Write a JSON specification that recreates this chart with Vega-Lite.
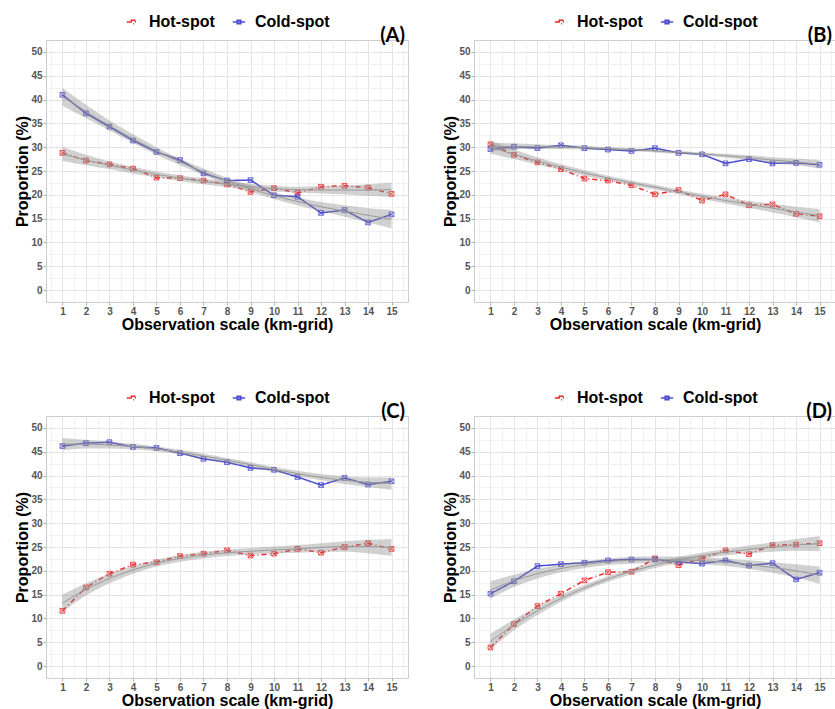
{
  "$schema": "https://vega.github.io/schema/vega-lite/v6.json",
  "background": "white",
  "padding": {"left": 14, "top": 13, "right": 0, "bottom": 0},
  "spacing": 56,
  "datasets": {
    "obs": [
      {"panel":"A","series":"Hot-spot","x":1,"y":28.8},{"panel":"A","series":"Hot-spot","x":2,"y":27.2},{"panel":"A","series":"Hot-spot","x":3,"y":26.4},{"panel":"A","series":"Hot-spot","x":4,"y":25.5},{"panel":"A","series":"Hot-spot","x":5,"y":23.6},{"panel":"A","series":"Hot-spot","x":6,"y":23.5},{"panel":"A","series":"Hot-spot","x":7,"y":23.0},{"panel":"A","series":"Hot-spot","x":8,"y":22.2},{"panel":"A","series":"Hot-spot","x":9,"y":20.6},{"panel":"A","series":"Hot-spot","x":10,"y":21.4},{"panel":"A","series":"Hot-spot","x":11,"y":20.4},{"panel":"A","series":"Hot-spot","x":12,"y":21.7},{"panel":"A","series":"Hot-spot","x":13,"y":21.9},{"panel":"A","series":"Hot-spot","x":14,"y":21.5},{"panel":"A","series":"Hot-spot","x":15,"y":20.2},
      {"panel":"A","series":"Cold-spot","x":1,"y":41.0},{"panel":"A","series":"Cold-spot","x":2,"y":37.1},{"panel":"A","series":"Cold-spot","x":3,"y":34.3},{"panel":"A","series":"Cold-spot","x":4,"y":31.4},{"panel":"A","series":"Cold-spot","x":5,"y":29.0},{"panel":"A","series":"Cold-spot","x":6,"y":27.3},{"panel":"A","series":"Cold-spot","x":7,"y":24.5},{"panel":"A","series":"Cold-spot","x":8,"y":23.0},{"panel":"A","series":"Cold-spot","x":9,"y":23.1},{"panel":"A","series":"Cold-spot","x":10,"y":19.9},{"panel":"A","series":"Cold-spot","x":11,"y":19.6},{"panel":"A","series":"Cold-spot","x":12,"y":16.2},{"panel":"A","series":"Cold-spot","x":13,"y":16.8},{"panel":"A","series":"Cold-spot","x":14,"y":14.2},{"panel":"A","series":"Cold-spot","x":15,"y":15.9},
      {"panel":"B","series":"Hot-spot","x":1,"y":30.6},{"panel":"B","series":"Hot-spot","x":2,"y":28.4},{"panel":"B","series":"Hot-spot","x":3,"y":26.8},{"panel":"B","series":"Hot-spot","x":4,"y":25.4},{"panel":"B","series":"Hot-spot","x":5,"y":23.4},{"panel":"B","series":"Hot-spot","x":6,"y":23.0},{"panel":"B","series":"Hot-spot","x":7,"y":22.0},{"panel":"B","series":"Hot-spot","x":8,"y":20.1},{"panel":"B","series":"Hot-spot","x":9,"y":21.0},{"panel":"B","series":"Hot-spot","x":10,"y":18.8},{"panel":"B","series":"Hot-spot","x":11,"y":20.1},{"panel":"B","series":"Hot-spot","x":12,"y":17.8},{"panel":"B","series":"Hot-spot","x":13,"y":18.0},{"panel":"B","series":"Hot-spot","x":14,"y":16.0},{"panel":"B","series":"Hot-spot","x":15,"y":15.5},
      {"panel":"B","series":"Cold-spot","x":1,"y":29.6},{"panel":"B","series":"Cold-spot","x":2,"y":30.1},{"panel":"B","series":"Cold-spot","x":3,"y":29.8},{"panel":"B","series":"Cold-spot","x":4,"y":30.4},{"panel":"B","series":"Cold-spot","x":5,"y":29.8},{"panel":"B","series":"Cold-spot","x":6,"y":29.5},{"panel":"B","series":"Cold-spot","x":7,"y":29.2},{"panel":"B","series":"Cold-spot","x":8,"y":29.8},{"panel":"B","series":"Cold-spot","x":9,"y":28.8},{"panel":"B","series":"Cold-spot","x":10,"y":28.5},{"panel":"B","series":"Cold-spot","x":11,"y":26.6},{"panel":"B","series":"Cold-spot","x":12,"y":27.5},{"panel":"B","series":"Cold-spot","x":13,"y":26.6},{"panel":"B","series":"Cold-spot","x":14,"y":26.7},{"panel":"B","series":"Cold-spot","x":15,"y":26.3},
      {"panel":"C","series":"Hot-spot","x":1,"y":11.6},{"panel":"C","series":"Hot-spot","x":2,"y":16.5},{"panel":"C","series":"Hot-spot","x":3,"y":19.4},{"panel":"C","series":"Hot-spot","x":4,"y":21.3},{"panel":"C","series":"Hot-spot","x":5,"y":21.8},{"panel":"C","series":"Hot-spot","x":6,"y":23.1},{"panel":"C","series":"Hot-spot","x":7,"y":23.6},{"panel":"C","series":"Hot-spot","x":8,"y":24.3},{"panel":"C","series":"Hot-spot","x":9,"y":23.2},{"panel":"C","series":"Hot-spot","x":10,"y":23.6},{"panel":"C","series":"Hot-spot","x":11,"y":24.6},{"panel":"C","series":"Hot-spot","x":12,"y":23.8},{"panel":"C","series":"Hot-spot","x":13,"y":25.0},{"panel":"C","series":"Hot-spot","x":14,"y":25.8},{"panel":"C","series":"Hot-spot","x":15,"y":24.6},
      {"panel":"C","series":"Cold-spot","x":1,"y":46.2},{"panel":"C","series":"Cold-spot","x":2,"y":46.8},{"panel":"C","series":"Cold-spot","x":3,"y":47.0},{"panel":"C","series":"Cold-spot","x":4,"y":46.0},{"panel":"C","series":"Cold-spot","x":5,"y":45.8},{"panel":"C","series":"Cold-spot","x":6,"y":44.7},{"panel":"C","series":"Cold-spot","x":7,"y":43.5},{"panel":"C","series":"Cold-spot","x":8,"y":42.8},{"panel":"C","series":"Cold-spot","x":9,"y":41.6},{"panel":"C","series":"Cold-spot","x":10,"y":41.2},{"panel":"C","series":"Cold-spot","x":11,"y":39.7},{"panel":"C","series":"Cold-spot","x":12,"y":38.0},{"panel":"C","series":"Cold-spot","x":13,"y":39.5},{"panel":"C","series":"Cold-spot","x":14,"y":38.1},{"panel":"C","series":"Cold-spot","x":15,"y":38.8},
      {"panel":"D","series":"Hot-spot","x":1,"y":3.9},{"panel":"D","series":"Hot-spot","x":2,"y":8.8},{"panel":"D","series":"Hot-spot","x":3,"y":12.6},{"panel":"D","series":"Hot-spot","x":4,"y":15.2},{"panel":"D","series":"Hot-spot","x":5,"y":18.0},{"panel":"D","series":"Hot-spot","x":6,"y":19.7},{"panel":"D","series":"Hot-spot","x":7,"y":19.8},{"panel":"D","series":"Hot-spot","x":8,"y":22.6},{"panel":"D","series":"Hot-spot","x":9,"y":21.2},{"panel":"D","series":"Hot-spot","x":10,"y":22.6},{"panel":"D","series":"Hot-spot","x":11,"y":24.3},{"panel":"D","series":"Hot-spot","x":12,"y":23.5},{"panel":"D","series":"Hot-spot","x":13,"y":25.4},{"panel":"D","series":"Hot-spot","x":14,"y":25.5},{"panel":"D","series":"Hot-spot","x":15,"y":25.8},
      {"panel":"D","series":"Cold-spot","x":1,"y":15.2},{"panel":"D","series":"Cold-spot","x":2,"y":17.8},{"panel":"D","series":"Cold-spot","x":3,"y":21.0},{"panel":"D","series":"Cold-spot","x":4,"y":21.4},{"panel":"D","series":"Cold-spot","x":5,"y":21.7},{"panel":"D","series":"Cold-spot","x":6,"y":22.2},{"panel":"D","series":"Cold-spot","x":7,"y":22.4},{"panel":"D","series":"Cold-spot","x":8,"y":22.4},{"panel":"D","series":"Cold-spot","x":9,"y":21.9},{"panel":"D","series":"Cold-spot","x":10,"y":21.5},{"panel":"D","series":"Cold-spot","x":11,"y":22.2},{"panel":"D","series":"Cold-spot","x":12,"y":21.1},{"panel":"D","series":"Cold-spot","x":13,"y":21.6},{"panel":"D","series":"Cold-spot","x":14,"y":18.2},{"panel":"D","series":"Cold-spot","x":15,"y":19.6}
    ],
    "fit": [
      {"panel":"A","series":"Cold-spot","x":1,"fit":40.6,"lo":38.7,"hi":42.5},{"panel":"A","series":"Cold-spot","x":2,"fit":37.5,"lo":36.1,"hi":38.9},{"panel":"A","series":"Cold-spot","x":3,"fit":34.5,"lo":33.5,"hi":35.6},{"panel":"A","series":"Cold-spot","x":4,"fit":31.8,"lo":30.9,"hi":32.7},{"panel":"A","series":"Cold-spot","x":5,"fit":29.2,"lo":28.4,"hi":30.0},{"panel":"A","series":"Cold-spot","x":6,"fit":26.9,"lo":26.2,"hi":27.6},{"panel":"A","series":"Cold-spot","x":7,"fit":24.8,"lo":24.1,"hi":25.5},{"panel":"A","series":"Cold-spot","x":8,"fit":22.9,"lo":22.2,"hi":23.6},{"panel":"A","series":"Cold-spot","x":9,"fit":21.3,"lo":20.6,"hi":22.0},{"panel":"A","series":"Cold-spot","x":10,"fit":19.8,"lo":19.1,"hi":20.5},{"panel":"A","series":"Cold-spot","x":11,"fit":18.6,"lo":17.8,"hi":19.4},{"panel":"A","series":"Cold-spot","x":12,"fit":17.5,"lo":16.6,"hi":18.5},{"panel":"A","series":"Cold-spot","x":13,"fit":16.6,"lo":15.4,"hi":17.8},{"panel":"A","series":"Cold-spot","x":14,"fit":15.7,"lo":14.2,"hi":17.2},{"panel":"A","series":"Cold-spot","x":15,"fit":14.9,"lo":13.0,"hi":16.8},
      {"panel":"A","series":"Hot-spot","x":1,"fit":28.6,"lo":27.1,"hi":30.1},{"panel":"A","series":"Hot-spot","x":2,"fit":27.3,"lo":26.2,"hi":28.4},{"panel":"A","series":"Hot-spot","x":3,"fit":26.2,"lo":25.4,"hi":27.0},{"panel":"A","series":"Hot-spot","x":4,"fit":25.2,"lo":24.5,"hi":25.9},{"panel":"A","series":"Hot-spot","x":5,"fit":24.3,"lo":23.7,"hi":24.9},{"panel":"A","series":"Hot-spot","x":6,"fit":23.5,"lo":22.9,"hi":24.1},{"panel":"A","series":"Hot-spot","x":7,"fit":22.8,"lo":22.2,"hi":23.4},{"panel":"A","series":"Hot-spot","x":8,"fit":22.2,"lo":21.6,"hi":22.8},{"panel":"A","series":"Hot-spot","x":9,"fit":21.7,"lo":21.1,"hi":22.3},{"panel":"A","series":"Hot-spot","x":10,"fit":21.3,"lo":20.7,"hi":21.9},{"panel":"A","series":"Hot-spot","x":11,"fit":21.1,"lo":20.5,"hi":21.7},{"panel":"A","series":"Hot-spot","x":12,"fit":21.0,"lo":20.3,"hi":21.8},{"panel":"A","series":"Hot-spot","x":13,"fit":21.0,"lo":20.1,"hi":21.9},{"panel":"A","series":"Hot-spot","x":14,"fit":21.0,"lo":19.8,"hi":22.2},{"panel":"A","series":"Hot-spot","x":15,"fit":21.1,"lo":19.6,"hi":22.6},
      {"panel":"B","series":"Cold-spot","x":1,"fit":30.1,"lo":29.2,"hi":31.0},{"panel":"B","series":"Cold-spot","x":2,"fit":30.1,"lo":29.5,"hi":30.8},{"panel":"B","series":"Cold-spot","x":3,"fit":30.1,"lo":29.6,"hi":30.6},{"panel":"B","series":"Cold-spot","x":4,"fit":30.0,"lo":29.6,"hi":30.4},{"panel":"B","series":"Cold-spot","x":5,"fit":29.9,"lo":29.5,"hi":30.3},{"panel":"B","series":"Cold-spot","x":6,"fit":29.7,"lo":29.4,"hi":30.0},{"panel":"B","series":"Cold-spot","x":7,"fit":29.5,"lo":29.2,"hi":29.8},{"panel":"B","series":"Cold-spot","x":8,"fit":29.2,"lo":28.9,"hi":29.5},{"panel":"B","series":"Cold-spot","x":9,"fit":28.9,"lo":28.6,"hi":29.2},{"panel":"B","series":"Cold-spot","x":10,"fit":28.6,"lo":28.3,"hi":28.9},{"panel":"B","series":"Cold-spot","x":11,"fit":28.2,"lo":27.8,"hi":28.6},{"panel":"B","series":"Cold-spot","x":12,"fit":27.8,"lo":27.4,"hi":28.3},{"panel":"B","series":"Cold-spot","x":13,"fit":27.3,"lo":26.7,"hi":27.9},{"panel":"B","series":"Cold-spot","x":14,"fit":26.9,"lo":26.2,"hi":27.6},{"panel":"B","series":"Cold-spot","x":15,"fit":26.4,"lo":25.5,"hi":27.3},
      {"panel":"B","series":"Hot-spot","x":1,"fit":30.0,"lo":28.6,"hi":31.4},{"panel":"B","series":"Hot-spot","x":2,"fit":28.5,"lo":27.5,"hi":29.5},{"panel":"B","series":"Hot-spot","x":3,"fit":27.1,"lo":26.3,"hi":27.9},{"panel":"B","series":"Hot-spot","x":4,"fit":25.8,"lo":25.2,"hi":26.4},{"panel":"B","series":"Hot-spot","x":5,"fit":24.6,"lo":24.0,"hi":25.2},{"panel":"B","series":"Hot-spot","x":6,"fit":23.5,"lo":23.0,"hi":24.0},{"panel":"B","series":"Hot-spot","x":7,"fit":22.5,"lo":22.0,"hi":23.0},{"panel":"B","series":"Hot-spot","x":8,"fit":21.6,"lo":21.1,"hi":22.1},{"panel":"B","series":"Hot-spot","x":9,"fit":20.6,"lo":20.1,"hi":21.1},{"panel":"B","series":"Hot-spot","x":10,"fit":19.7,"lo":19.2,"hi":20.2},{"panel":"B","series":"Hot-spot","x":11,"fit":18.8,"lo":18.2,"hi":19.4},{"panel":"B","series":"Hot-spot","x":12,"fit":18.0,"lo":17.3,"hi":18.7},{"panel":"B","series":"Hot-spot","x":13,"fit":17.2,"lo":16.3,"hi":18.1},{"panel":"B","series":"Hot-spot","x":14,"fit":16.4,"lo":15.3,"hi":17.5},{"panel":"B","series":"Hot-spot","x":15,"fit":15.6,"lo":14.2,"hi":17.0},
      {"panel":"C","series":"Cold-spot","x":1,"fit":46.6,"lo":45.3,"hi":47.9},{"panel":"C","series":"Cold-spot","x":2,"fit":46.6,"lo":45.7,"hi":47.5},{"panel":"C","series":"Cold-spot","x":3,"fit":46.4,"lo":45.7,"hi":47.1},{"panel":"C","series":"Cold-spot","x":4,"fit":46.1,"lo":45.5,"hi":46.7},{"panel":"C","series":"Cold-spot","x":5,"fit":45.6,"lo":45.1,"hi":46.1},{"panel":"C","series":"Cold-spot","x":6,"fit":44.9,"lo":44.4,"hi":45.4},{"panel":"C","series":"Cold-spot","x":7,"fit":44.1,"lo":43.6,"hi":44.6},{"panel":"C","series":"Cold-spot","x":8,"fit":43.2,"lo":42.7,"hi":43.7},{"panel":"C","series":"Cold-spot","x":9,"fit":42.3,"lo":41.8,"hi":42.8},{"panel":"C","series":"Cold-spot","x":10,"fit":41.3,"lo":40.8,"hi":41.8},{"panel":"C","series":"Cold-spot","x":11,"fit":40.4,"lo":39.9,"hi":41.0},{"panel":"C","series":"Cold-spot","x":12,"fit":39.6,"lo":39.0,"hi":40.3},{"panel":"C","series":"Cold-spot","x":13,"fit":39.0,"lo":38.2,"hi":39.8},{"panel":"C","series":"Cold-spot","x":14,"fit":38.6,"lo":37.6,"hi":39.6},{"panel":"C","series":"Cold-spot","x":15,"fit":38.3,"lo":37.0,"hi":39.6},
      {"panel":"C","series":"Hot-spot","x":1,"fit":13.2,"lo":11.4,"hi":15.0},{"panel":"C","series":"Hot-spot","x":2,"fit":16.1,"lo":14.8,"hi":17.4},{"panel":"C","series":"Hot-spot","x":3,"fit":18.4,"lo":17.4,"hi":19.4},{"panel":"C","series":"Hot-spot","x":4,"fit":20.2,"lo":19.4,"hi":21.0},{"panel":"C","series":"Hot-spot","x":5,"fit":21.6,"lo":20.9,"hi":22.3},{"panel":"C","series":"Hot-spot","x":6,"fit":22.6,"lo":21.9,"hi":23.3},{"panel":"C","series":"Hot-spot","x":7,"fit":23.3,"lo":22.6,"hi":24.0},{"panel":"C","series":"Hot-spot","x":8,"fit":23.8,"lo":23.1,"hi":24.5},{"panel":"C","series":"Hot-spot","x":9,"fit":24.1,"lo":23.4,"hi":24.8},{"panel":"C","series":"Hot-spot","x":10,"fit":24.4,"lo":23.7,"hi":25.1},{"panel":"C","series":"Hot-spot","x":11,"fit":24.6,"lo":23.8,"hi":25.4},{"panel":"C","series":"Hot-spot","x":12,"fit":24.9,"lo":24.0,"hi":25.8},{"panel":"C","series":"Hot-spot","x":13,"fit":25.1,"lo":24.0,"hi":26.2},{"panel":"C","series":"Hot-spot","x":14,"fit":25.1,"lo":23.7,"hi":26.5},{"panel":"C","series":"Hot-spot","x":15,"fit":24.9,"lo":23.1,"hi":26.7},
      {"panel":"D","series":"Cold-spot","x":1,"fit":16.0,"lo":14.2,"hi":17.8},{"panel":"D","series":"Cold-spot","x":2,"fit":17.9,"lo":16.6,"hi":19.2},{"panel":"D","series":"Cold-spot","x":3,"fit":19.4,"lo":18.4,"hi":20.4},{"panel":"D","series":"Cold-spot","x":4,"fit":20.5,"lo":19.7,"hi":21.3},{"panel":"D","series":"Cold-spot","x":5,"fit":21.3,"lo":20.6,"hi":22.0},{"panel":"D","series":"Cold-spot","x":6,"fit":21.9,"lo":21.2,"hi":22.6},{"panel":"D","series":"Cold-spot","x":7,"fit":22.2,"lo":21.5,"hi":22.9},{"panel":"D","series":"Cold-spot","x":8,"fit":22.3,"lo":21.6,"hi":23.0},{"panel":"D","series":"Cold-spot","x":9,"fit":22.3,"lo":21.6,"hi":23.0},{"panel":"D","series":"Cold-spot","x":10,"fit":22.1,"lo":21.4,"hi":22.8},{"panel":"D","series":"Cold-spot","x":11,"fit":21.8,"lo":21.0,"hi":22.6},{"panel":"D","series":"Cold-spot","x":12,"fit":21.3,"lo":20.4,"hi":22.2},{"panel":"D","series":"Cold-spot","x":13,"fit":20.7,"lo":19.6,"hi":21.8},{"panel":"D","series":"Cold-spot","x":14,"fit":20.0,"lo":18.6,"hi":21.4},{"panel":"D","series":"Cold-spot","x":15,"fit":19.1,"lo":17.3,"hi":20.9},
      {"panel":"D","series":"Hot-spot","x":1,"fit":5.2,"lo":3.6,"hi":6.8},{"panel":"D","series":"Hot-spot","x":2,"fit":8.6,"lo":7.5,"hi":9.8},{"panel":"D","series":"Hot-spot","x":3,"fit":11.6,"lo":10.7,"hi":12.5},{"panel":"D","series":"Hot-spot","x":4,"fit":14.2,"lo":13.5,"hi":14.9},{"panel":"D","series":"Hot-spot","x":5,"fit":16.4,"lo":15.8,"hi":17.0},{"panel":"D","series":"Hot-spot","x":6,"fit":18.3,"lo":17.7,"hi":18.9},{"panel":"D","series":"Hot-spot","x":7,"fit":19.9,"lo":19.3,"hi":20.5},{"panel":"D","series":"Hot-spot","x":8,"fit":21.2,"lo":20.6,"hi":21.8},{"panel":"D","series":"Hot-spot","x":9,"fit":22.3,"lo":21.7,"hi":22.9},{"panel":"D","series":"Hot-spot","x":10,"fit":23.2,"lo":22.6,"hi":23.8},{"panel":"D","series":"Hot-spot","x":11,"fit":23.9,"lo":23.2,"hi":24.6},{"panel":"D","series":"Hot-spot","x":12,"fit":24.5,"lo":23.7,"hi":25.3},{"panel":"D","series":"Hot-spot","x":13,"fit":25.0,"lo":24.0,"hi":26.0},{"panel":"D","series":"Hot-spot","x":14,"fit":25.4,"lo":24.2,"hi":26.7},{"panel":"D","series":"Hot-spot","x":15,"fit":25.7,"lo":24.1,"hi":27.3}
    ],
    "tags": [
      {"panel":"A","label":"(A)"},{"panel":"B","label":"(B)"},{"panel":"C","label":"(C)"},{"panel":"D","label":"(D)"}
    ]
  },
  "resolve": {"scale": {"color": "independent", "strokeDash": "independent"}, "legend": {"color": "independent", "strokeDash": "independent"}},
  "vconcat": [
    {
      "spacing": 33,
      "resolve": {"scale": {"color": "independent", "strokeDash": "independent"}, "legend": {"color": "independent", "strokeDash": "independent"}},
      "hconcat": [
        {
          "width": 362, "height": 262,
          "resolve": {"axis": {"x": "independent", "y": "independent"}},
          "layer": [
            {"data": {"name": "obs"}, "transform": [{"filter": "datum.panel === 'A'"}],
             "mark": {"type": "line", "strokeWidth": 1.5},
             "encoding": {
               "x": {"field": "x", "type": "quantitative", "scale": {"domain": [0.3, 15.7], "nice": false, "zero": false}, "axis": {"values": [1,2,3,4,5,6,7,8,9,10,11,12,13,14,15], "title": "Observation scale (km-grid)"}},
               "y": {"field": "y", "type": "quantitative", "scale": {"domain": [-2.5, 52.5], "nice": false, "zero": false}, "axis": {"values": [0,5,10,15,20,25,30,35,40,45,50], "title": "Proportion (%)"}},
               "color": {"field": "series", "type": "nominal", "scale": {"domain": ["Hot-spot", "Cold-spot"], "range": ["#f02a2a", "#4a4ad0"]}, "title": null},
               "strokeDash": {"field": "series", "type": "nominal", "scale": {"domain": ["Hot-spot", "Cold-spot"], "range": [[5, 3, 1, 3], [1, 0]]}, "title": null}
             }},
            {"data": {"name": "obs"}, "transform": [{"filter": "datum.panel === 'A'"}],
             "mark": {"type": "point", "shape": "M-1,-1H1V1H-1Z M-1,-1L1,1 M1,-1L-1,1", "filled": false, "size": 22, "strokeWidth": 0.8, "opacity": 1},
             "encoding": {
               "x": {"field": "x", "type": "quantitative", "axis": null},
               "y": {"field": "y", "type": "quantitative", "axis": null},
               "color": {"field": "series", "type": "nominal", "title": null}
             }},
            {"data": {"name": "fit"}, "transform": [{"filter": "datum.panel === 'A'"}],
             "mark": {"type": "area", "fill": "#8c8c8c", "opacity": 0.4, "interpolate": "monotone"},
             "encoding": {
               "x": {"field": "x", "type": "quantitative", "axis": {"orient": "top", "values": [0.5,1.5,2.5,3.5,4.5,5.5,6.5,7.5,8.5,9.5,10.5,11.5,12.5,13.5,14.5,15.5], "labels": false, "ticks": false, "domain": false, "title": null, "grid": true, "gridColor": "#f1f1f1"}},
               "y": {"field": "lo", "type": "quantitative", "axis": {"orient": "right", "values": [2.5,7.5,12.5,17.5,22.5,27.5,32.5,37.5,42.5,47.5], "labels": false, "ticks": false, "domain": false, "title": null, "grid": true, "gridColor": "#f1f1f1"}},
               "y2": {"field": "hi"},
               "detail": {"field": "series"}
             }},
            {"data": {"name": "fit"}, "transform": [{"filter": "datum.panel === 'A'"}],
             "mark": {"type": "line", "color": "#9a9a9a", "strokeWidth": 1, "interpolate": "monotone"},
             "encoding": {
               "x": {"field": "x", "type": "quantitative", "axis": null},
               "y": {"field": "fit", "type": "quantitative", "axis": null},
               "detail": {"field": "series"}
             }},
            {"data": {"name": "tags"}, "transform": [{"filter": "datum.panel === 'A'"}],
             "mark": {"type": "text", "font": "Lato", "fontWeight": "bold", "fontSize": 20, "align": "right", "baseline": "bottom", "dx": -3, "dy": 6, "color": "black"},
             "encoding": {
               "x": {"datum": 15.7, "type": "quantitative", "axis": null},
               "y": {"datum": 52.5, "type": "quantitative", "axis": null},
               "text": {"field": "label"}
             }}
          ]
        },
        {
          "width": 362, "height": 262,
          "resolve": {"axis": {"x": "independent", "y": "independent"}},
          "layer": [
            {"data": {"name": "obs"}, "transform": [{"filter": "datum.panel === 'B'"}],
             "mark": {"type": "line", "strokeWidth": 1.5},
             "encoding": {
               "x": {"field": "x", "type": "quantitative", "scale": {"domain": [0.3, 15.7], "nice": false, "zero": false}, "axis": {"values": [1,2,3,4,5,6,7,8,9,10,11,12,13,14,15], "title": "Observation scale (km-grid)"}},
               "y": {"field": "y", "type": "quantitative", "scale": {"domain": [-2.5, 52.5], "nice": false, "zero": false}, "axis": {"values": [0,5,10,15,20,25,30,35,40,45,50], "title": "Proportion (%)"}},
               "color": {"field": "series", "type": "nominal", "scale": {"domain": ["Hot-spot", "Cold-spot"], "range": ["#f02a2a", "#4a4ad0"]}, "title": null},
               "strokeDash": {"field": "series", "type": "nominal", "scale": {"domain": ["Hot-spot", "Cold-spot"], "range": [[5, 3, 1, 3], [1, 0]]}, "title": null}
             }},
            {"data": {"name": "obs"}, "transform": [{"filter": "datum.panel === 'B'"}],
             "mark": {"type": "point", "shape": "M-1,-1H1V1H-1Z M-1,-1L1,1 M1,-1L-1,1", "filled": false, "size": 22, "strokeWidth": 0.8, "opacity": 1},
             "encoding": {
               "x": {"field": "x", "type": "quantitative", "axis": null},
               "y": {"field": "y", "type": "quantitative", "axis": null},
               "color": {"field": "series", "type": "nominal", "title": null}
             }},
            {"data": {"name": "fit"}, "transform": [{"filter": "datum.panel === 'B'"}],
             "mark": {"type": "area", "fill": "#8c8c8c", "opacity": 0.4, "interpolate": "monotone"},
             "encoding": {
               "x": {"field": "x", "type": "quantitative", "axis": {"orient": "top", "values": [0.5,1.5,2.5,3.5,4.5,5.5,6.5,7.5,8.5,9.5,10.5,11.5,12.5,13.5,14.5,15.5], "labels": false, "ticks": false, "domain": false, "title": null, "grid": true, "gridColor": "#f1f1f1"}},
               "y": {"field": "lo", "type": "quantitative", "axis": {"orient": "right", "values": [2.5,7.5,12.5,17.5,22.5,27.5,32.5,37.5,42.5,47.5], "labels": false, "ticks": false, "domain": false, "title": null, "grid": true, "gridColor": "#f1f1f1"}},
               "y2": {"field": "hi"},
               "detail": {"field": "series"}
             }},
            {"data": {"name": "fit"}, "transform": [{"filter": "datum.panel === 'B'"}],
             "mark": {"type": "line", "color": "#9a9a9a", "strokeWidth": 1, "interpolate": "monotone"},
             "encoding": {
               "x": {"field": "x", "type": "quantitative", "axis": null},
               "y": {"field": "fit", "type": "quantitative", "axis": null},
               "detail": {"field": "series"}
             }},
            {"data": {"name": "tags"}, "transform": [{"filter": "datum.panel === 'B'"}],
             "mark": {"type": "text", "font": "Lato", "fontWeight": "bold", "fontSize": 20, "align": "right", "baseline": "bottom", "dx": -4, "dy": 6, "color": "black"},
             "encoding": {
               "x": {"datum": 15.7, "type": "quantitative", "axis": null},
               "y": {"datum": 52.5, "type": "quantitative", "axis": null},
               "text": {"field": "label"}
             }}
          ]
        }
      ]
    },
    {
      "spacing": 33,
      "resolve": {"scale": {"color": "independent", "strokeDash": "independent"}, "legend": {"color": "independent", "strokeDash": "independent"}},
      "hconcat": [
        {
          "width": 362, "height": 262,
          "resolve": {"axis": {"x": "independent", "y": "independent"}},
          "layer": [
            {"data": {"name": "obs"}, "transform": [{"filter": "datum.panel === 'C'"}],
             "mark": {"type": "line", "strokeWidth": 1.5},
             "encoding": {
               "x": {"field": "x", "type": "quantitative", "scale": {"domain": [0.3, 15.7], "nice": false, "zero": false}, "axis": {"values": [1,2,3,4,5,6,7,8,9,10,11,12,13,14,15], "title": "Observation scale (km-grid)"}},
               "y": {"field": "y", "type": "quantitative", "scale": {"domain": [-2.5, 52.5], "nice": false, "zero": false}, "axis": {"values": [0,5,10,15,20,25,30,35,40,45,50], "title": "Proportion (%)"}},
               "color": {"field": "series", "type": "nominal", "scale": {"domain": ["Hot-spot", "Cold-spot"], "range": ["#f02a2a", "#4a4ad0"]}, "title": null},
               "strokeDash": {"field": "series", "type": "nominal", "scale": {"domain": ["Hot-spot", "Cold-spot"], "range": [[5, 3, 1, 3], [1, 0]]}, "title": null}
             }},
            {"data": {"name": "obs"}, "transform": [{"filter": "datum.panel === 'C'"}],
             "mark": {"type": "point", "shape": "M-1,-1H1V1H-1Z M-1,-1L1,1 M1,-1L-1,1", "filled": false, "size": 22, "strokeWidth": 0.8, "opacity": 1},
             "encoding": {
               "x": {"field": "x", "type": "quantitative", "axis": null},
               "y": {"field": "y", "type": "quantitative", "axis": null},
               "color": {"field": "series", "type": "nominal", "title": null}
             }},
            {"data": {"name": "fit"}, "transform": [{"filter": "datum.panel === 'C'"}],
             "mark": {"type": "area", "fill": "#8c8c8c", "opacity": 0.4, "interpolate": "monotone"},
             "encoding": {
               "x": {"field": "x", "type": "quantitative", "axis": {"orient": "top", "values": [0.5,1.5,2.5,3.5,4.5,5.5,6.5,7.5,8.5,9.5,10.5,11.5,12.5,13.5,14.5,15.5], "labels": false, "ticks": false, "domain": false, "title": null, "grid": true, "gridColor": "#f1f1f1"}},
               "y": {"field": "lo", "type": "quantitative", "axis": {"orient": "right", "values": [2.5,7.5,12.5,17.5,22.5,27.5,32.5,37.5,42.5,47.5], "labels": false, "ticks": false, "domain": false, "title": null, "grid": true, "gridColor": "#f1f1f1"}},
               "y2": {"field": "hi"},
               "detail": {"field": "series"}
             }},
            {"data": {"name": "fit"}, "transform": [{"filter": "datum.panel === 'C'"}],
             "mark": {"type": "line", "color": "#9a9a9a", "strokeWidth": 1, "interpolate": "monotone"},
             "encoding": {
               "x": {"field": "x", "type": "quantitative", "axis": null},
               "y": {"field": "fit", "type": "quantitative", "axis": null},
               "detail": {"field": "series"}
             }},
            {"data": {"name": "tags"}, "transform": [{"filter": "datum.panel === 'C'"}],
             "mark": {"type": "text", "font": "Lato", "fontWeight": "bold", "fontSize": 20, "align": "right", "baseline": "bottom", "dx": -3, "dy": 6, "color": "black"},
             "encoding": {
               "x": {"datum": 15.7, "type": "quantitative", "axis": null},
               "y": {"datum": 52.5, "type": "quantitative", "axis": null},
               "text": {"field": "label"}
             }}
          ]
        },
        {
          "width": 362, "height": 262,
          "resolve": {"axis": {"x": "independent", "y": "independent"}},
          "layer": [
            {"data": {"name": "obs"}, "transform": [{"filter": "datum.panel === 'D'"}],
             "mark": {"type": "line", "strokeWidth": 1.5},
             "encoding": {
               "x": {"field": "x", "type": "quantitative", "scale": {"domain": [0.3, 15.7], "nice": false, "zero": false}, "axis": {"values": [1,2,3,4,5,6,7,8,9,10,11,12,13,14,15], "title": "Observation scale (km-grid)"}},
               "y": {"field": "y", "type": "quantitative", "scale": {"domain": [-2.5, 52.5], "nice": false, "zero": false}, "axis": {"values": [0,5,10,15,20,25,30,35,40,45,50], "title": "Proportion (%)"}},
               "color": {"field": "series", "type": "nominal", "scale": {"domain": ["Hot-spot", "Cold-spot"], "range": ["#f02a2a", "#4a4ad0"]}, "title": null},
               "strokeDash": {"field": "series", "type": "nominal", "scale": {"domain": ["Hot-spot", "Cold-spot"], "range": [[5, 3, 1, 3], [1, 0]]}, "title": null}
             }},
            {"data": {"name": "obs"}, "transform": [{"filter": "datum.panel === 'D'"}],
             "mark": {"type": "point", "shape": "M-1,-1H1V1H-1Z M-1,-1L1,1 M1,-1L-1,1", "filled": false, "size": 22, "strokeWidth": 0.8, "opacity": 1},
             "encoding": {
               "x": {"field": "x", "type": "quantitative", "axis": null},
               "y": {"field": "y", "type": "quantitative", "axis": null},
               "color": {"field": "series", "type": "nominal", "title": null}
             }},
            {"data": {"name": "fit"}, "transform": [{"filter": "datum.panel === 'D'"}],
             "mark": {"type": "area", "fill": "#8c8c8c", "opacity": 0.4, "interpolate": "monotone"},
             "encoding": {
               "x": {"field": "x", "type": "quantitative", "axis": {"orient": "top", "values": [0.5,1.5,2.5,3.5,4.5,5.5,6.5,7.5,8.5,9.5,10.5,11.5,12.5,13.5,14.5,15.5], "labels": false, "ticks": false, "domain": false, "title": null, "grid": true, "gridColor": "#f1f1f1"}},
               "y": {"field": "lo", "type": "quantitative", "axis": {"orient": "right", "values": [2.5,7.5,12.5,17.5,22.5,27.5,32.5,37.5,42.5,47.5], "labels": false, "ticks": false, "domain": false, "title": null, "grid": true, "gridColor": "#f1f1f1"}},
               "y2": {"field": "hi"},
               "detail": {"field": "series"}
             }},
            {"data": {"name": "fit"}, "transform": [{"filter": "datum.panel === 'D'"}],
             "mark": {"type": "line", "color": "#9a9a9a", "strokeWidth": 1, "interpolate": "monotone"},
             "encoding": {
               "x": {"field": "x", "type": "quantitative", "axis": null},
               "y": {"field": "fit", "type": "quantitative", "axis": null},
               "detail": {"field": "series"}
             }},
            {"data": {"name": "tags"}, "transform": [{"filter": "datum.panel === 'D'"}],
             "mark": {"type": "text", "font": "Lato", "fontWeight": "bold", "fontSize": 20, "align": "right", "baseline": "bottom", "dx": -4, "dy": 6, "color": "black"},
             "encoding": {
               "x": {"datum": 15.7, "type": "quantitative", "axis": null},
               "y": {"datum": 52.5, "type": "quantitative", "axis": null},
               "text": {"field": "label"}
             }}
          ]
        }
      ]
    }
  ],
  "config": {
    "font": "Liberation Sans",
    "view": {"stroke": "#cccccc", "strokeWidth": 1},
    "axis": {
      "grid": true, "gridColor": "#e4e4e4", "gridWidth": 1,
      "domain": false,
      "ticks": true, "tickSize": 3, "tickColor": "#b0b0b0", "tickWidth": 1,
      "labelFont": "Liberation Sans", "labelFontSize": 10, "labelFontWeight": "bold", "labelColor": "#555555", "labelPadding": 1,
      "titleFont": "Liberation Sans", "titleFontSize": 16, "titleFontWeight": "bold", "titleColor": "#000000", "titlePadding": 0
    },
    "axisX": {"labelAngle": 0},
    "legend": {
      "orient": "top", "direction": "horizontal",
      "labelFont": "Liberation Sans", "labelFontSize": 16, "labelFontWeight": "bold", "labelColor": "#000000",
      "symbolType": "M-1,0H1 M-0.3,-0.3H0.3V0.3H-0.3Z", "symbolSize": 150, "symbolStrokeWidth": 1.5,
      "columnPadding": 14, "labelOffset": 8, "offset": 10,
      "layout": {"top": {"anchor": "middle"}}
    }
  }
}
